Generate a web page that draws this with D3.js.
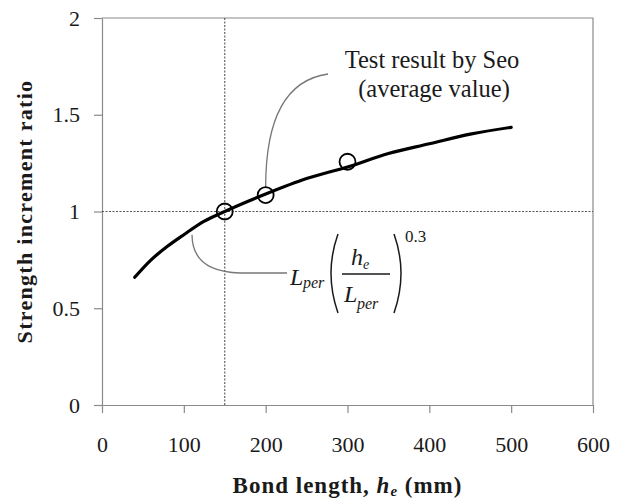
<!DOCTYPE html>
<html>
<head>
<meta charset="utf-8">
<script src="https://cdn.jsdelivr.net/npm/d3@7"></script>
<style>
  body { margin: 0; background: #fff; }
  svg { display: block; font-family: "Liberation Serif", "Times New Roman", serif; }
</style>
</head>
<body>
<svg width="624" height="501"></svg>
<script>
// bond length (mm) vs strength increment ratio
var curveX = [40, 60, 80, 100, 125, 150, 200, 250, 300, 350, 400, 450, 500];
var curveY = [0.66, 0.75, 0.82, 0.88, 0.95, 1.0, 1.09, 1.17, 1.23, 1.30, 1.35, 1.40, 1.435];
var testX = [150, 200, 300];
var testY = [1.0, 1.085, 1.257];
var xTicks = [0, 100, 200, 300, 400, 500, 600];
var yTicks = [0, 0.5, 1, 1.5, 2];
var refX = 150, refY = 1;

var svg = d3.select("svg");
var plotL = 102, plotR = 593, plotT = 18, plotB = 405;

var x = d3.scaleLinear().domain([0, 600]).range([plotL, plotR]);
var y = d3.scaleLinear().domain([0, 2]).range([plotB, plotT]);

var axisColor = "#8a8a8a";
var textColor = "#1a1a1a";

// frame (top and right)
svg.append("path")
   .attr("d", "M" + plotL + "," + plotT + "H" + plotR + "V" + plotB)
   .attr("fill", "none")
   .attr("stroke", axisColor)
   .attr("stroke-width", 1.2);

var xAxis = svg.append("g")
   .attr("transform", "translate(0," + plotB + ")")
   .call(d3.axisBottom(x).tickValues(xTicks).tickSize(8).tickSizeOuter(0).tickPadding(23));
var yAxis = svg.append("g")
   .attr("transform", "translate(" + plotL + ",0)")
   .call(d3.axisLeft(y).tickValues(yTicks).tickFormat(function(d) { return String(d); })
         .tickSize(8).tickSizeOuter(0).tickPadding(14));

[xAxis, yAxis].forEach(function(g) {
    g.select(".domain").attr("stroke", axisColor).attr("stroke-width", 1.2);
    g.selectAll(".tick line").attr("stroke", axisColor).attr("stroke-width", 1.2);
    g.selectAll(".tick text")
     .attr("fill", textColor)
     .style("font-family", "Liberation Serif, serif")
     .style("font-size", "22px");
});

// dotted reference lines
svg.append("line")
   .attr("x1", x(refX)).attr("x2", x(refX))
   .attr("y1", y(2)).attr("y2", y(0))
   .attr("stroke", "#555").attr("stroke-width", 1.1)
   .attr("stroke-dasharray", "2,1.5");
svg.append("line")
   .attr("x1", x(0)).attr("x2", x(600))
   .attr("y1", y(refY)).attr("y2", y(refY))
   .attr("stroke", "#555").attr("stroke-width", 1.1)
   .attr("stroke-dasharray", "2,1.5");

// leader lines
svg.append("path")
   .attr("d", "M" + x(200) + "," + (y(1.085) - 8) + " C" + x(200) + ",120 285,80 328,74")
   .attr("fill", "none").attr("stroke", "#777").attr("stroke-width", 1.3);
svg.append("path")
   .attr("d", "M" + x(110) + "," + (y(0.9) + 4) + " C" + x(110) + ",257 205,272 240,273 L287,273")
   .attr("fill", "none").attr("stroke", "#777").attr("stroke-width", 1.3);

// model curve
var pts = curveX.map(function(d, i) { return [d, curveY[i]]; });
var line = d3.line()
   .x(function(d) { return x(d[0]); })
   .y(function(d) { return y(d[1]); })
   .curve(d3.curveMonotoneX);
svg.append("path")
   .datum(pts)
   .attr("d", line)
   .attr("fill", "none")
   .attr("stroke", "#000")
   .attr("stroke-width", 3.2)
   .attr("stroke-linecap", "round");

// test results
svg.append("g")
   .selectAll("circle")
   .data(testX)
   .enter()
   .append("circle")
   .attr("cx", function(d) { return x(d); })
   .attr("cy", function(d, i) { return y(testY[i]); })
   .attr("r", 8)
   .attr("fill", "none")
   .attr("stroke", "#000")
   .attr("stroke-width", 1.8);

// annotation text
var note = svg.append("text")
   .attr("text-anchor", "middle")
   .attr("fill", textColor)
   .style("font-size", "24.5px");
note.append("tspan").attr("x", 432).attr("y", 68).text("Test result by Seo");
note.append("tspan").attr("x", 434).attr("y", 97).text("(average value)");

// formula  L_per (h_e / L_per)^0.3
var f = svg.append("g").attr("fill", textColor).style("font-style", "italic");
f.append("text").attr("x", 290).attr("y", 285).style("font-size", "24px").text("L");
f.append("text").attr("x", 303).attr("y", 288).style("font-size", "16px").text("per");
f.append("text").attr("x", 351).attr("y", 265).style("font-size", "24px").text("h");
f.append("text").attr("x", 363).attr("y", 269).style("font-size", "14px").text("e");
f.append("text").attr("x", 344).attr("y", 302).style("font-size", "24px").text("L");
f.append("text").attr("x", 357).attr("y", 309).style("font-size", "16px").text("per");
svg.append("line")
   .attr("x1", 342).attr("x2", 390).attr("y1", 274).attr("y2", 274)
   .attr("stroke", textColor).attr("stroke-width", 1.3);
svg.append("path")
   .attr("d", "M338,234 Q324,273 338,313 M394,234 Q408,273 394,313")
   .attr("fill", "none").attr("stroke", textColor).attr("stroke-width", 1.5);
svg.append("text")
   .attr("x", 405).attr("y", 242)
   .attr("fill", textColor)
   .style("font-size", "17px")
   .text("0.3");

// axis titles
var xt = svg.append("text")
   .attr("x", (plotL + plotR) / 2).attr("y", 493)
   .attr("text-anchor", "middle")
   .attr("fill", textColor)
   .style("font-size", "23px").style("font-weight", "bold")
   .style("letter-spacing", "1px");
xt.append("tspan").text("Bond length, ");
xt.append("tspan").style("font-style", "italic").text("h");
xt.append("tspan").style("font-style", "italic").style("font-size", "15px").attr("dy", 3).text("e");
xt.append("tspan").attr("dy", -3).text(" (mm)");

svg.append("text")
   .attr("transform", "translate(32," + ((plotT + plotB) / 2) + ") rotate(-90)")
   .attr("text-anchor", "middle")
   .attr("fill", textColor)
   .style("font-size", "22px").style("font-weight", "bold")
   .style("letter-spacing", "1.3px")
   .text("Strength increment  ratio");
</script>
</body>
</html>
